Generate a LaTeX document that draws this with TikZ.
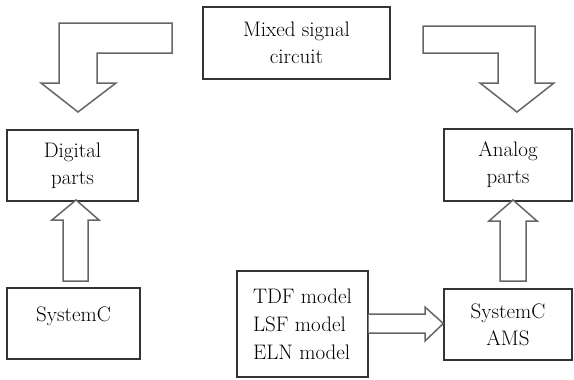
\documentclass[tikz,border=0pt]{standalone}
\usepackage{fontspec}
\definecolor{boxc}{HTML}{333333}
\definecolor{arrc}{HTML}{666666}
\begin{document}
\begin{tikzpicture}[x=1pt,y=-1pt,
  box/.style={draw=boxc, line width=1.3pt, inner sep=0pt, align=center,
    font=\fontsize{21}{27}\selectfont, text=black},
  blk/.style={draw=arrc, line width=1.5pt, line join=miter, fill=white}]
\fill[white] (0,0) rectangle (574,380);
\useasboundingbox (0,0) rectangle (574,380);

\node[box, minimum width=187pt, minimum height=72pt, yshift=-2pt] (mix) at (296.5,41) {Mixed signal\\circuit};
\node[box, minimum width=131pt, minimum height=71pt, yshift=-1pt] (dig) at (72.5,164.5) {Digital\\parts};
\node[box, minimum width=128pt, minimum height=72pt, yshift=-1pt] (ana) at (508,164) {Analog\\parts};
\node[box, minimum width=133pt, minimum height=71pt, text height=15pt, text depth=19pt] (sc) at (73.5,323.5) {SystemC};
\node[box, minimum width=128pt, minimum height=71pt, yshift=-1pt] (ams) at (508,323.5) {SystemC\\AMS};
\node[box, align=left, font=\fontsize{21}{28}\selectfont, minimum width=131pt, minimum height=106pt] (tdf) at (302.5,324) {TDF model\\LSF model\\ELN model};

% bent arrow from mixed signal circuit to digital parts
\draw[blk] (172,23) -- (59,23) -- (59,83) -- (41,83) -- (78,112) -- (116,83) -- (97,83) -- (97,53) -- (172,53) -- cycle;
% bent arrow from mixed signal circuit to analog parts
\draw[blk] (423,26) -- (535,26) -- (535,83) -- (554,83) -- (517,112) -- (480,83) -- (498,83) -- (498,53) -- (423,53) -- cycle;
% SystemC -> Digital parts
\draw[blk] (63,281) -- (63,220) -- (52,220) -- (76,200) -- (99,220) -- (88,220) -- (88,281) -- cycle;
% SystemC AMS -> Analog parts
\draw[blk] (500,281) -- (500,221) -- (489,221) -- (513,200) -- (537,221) -- (526,221) -- (526,281) -- cycle;
% TDF/LSF/ELN -> SystemC AMS
\draw[blk] (tdf.east |- 0,314) -- (425,314) -- (425,307) -- (ams.west |- 0,323.5) -- (425,341) -- (425,333) -- (tdf.east |- 0,333);
\end{tikzpicture}
\end{document}
